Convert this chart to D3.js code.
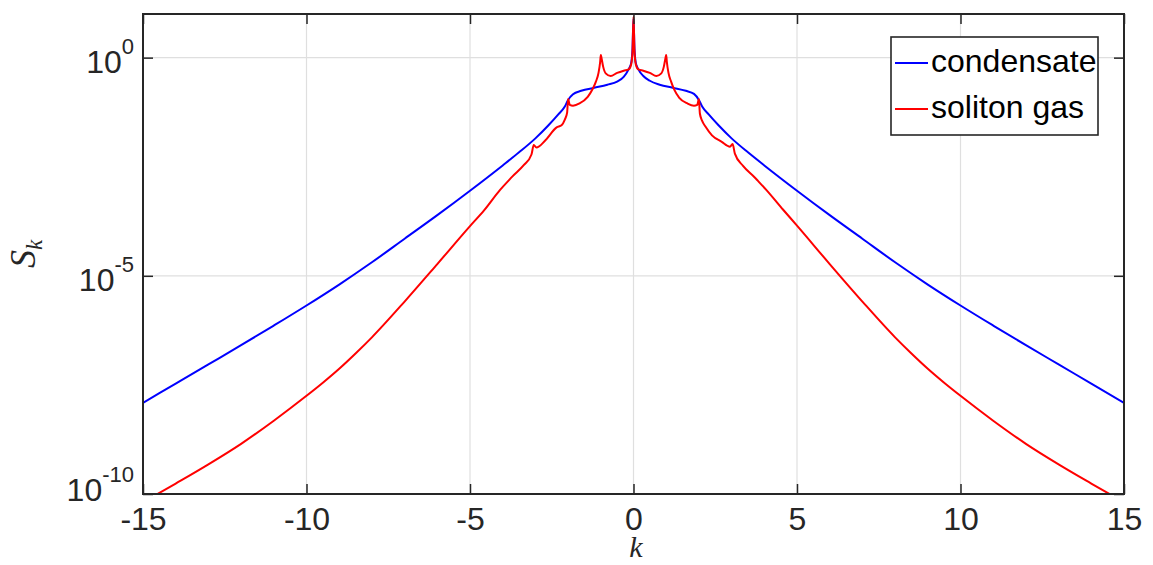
<!DOCTYPE html>
<html>
<head>
<meta charset="utf-8">
<script src="https://cdn.jsdelivr.net/npm/d3@7"></script>
<style>
  html, body { margin: 0; padding: 0; background: #fff; }
  svg { display: block; }
</style>
</head>
<body>
<svg id="chart" width="1153" height="565"></svg>
<script>
// ---------------- data ----------------
const xTicks = [-15, -10, -5, 0, 5, 10, 15];
const xTickLabels = ["-15", "-10", "-5", "0", "5", "10", "15"];
const yTicks = [1e-10, 1e-5, 1e0];
const yTickExponents = ["-10", "-5", "0"];
const seriesNames = ["condensate", "soliton gas"];

// condensate: k and log10(S_k)
const condK = [-15, -14, -13, -12, -11, -10, -9, -8, -7, -6, -5, -4, -3.5, -3, -2.6, -2.3, -2.1, -2.0,
  -1.85, -1.6, -1.2, -0.8, -0.5, -0.3, -0.15, -0.07, -0.03, 0,
  0.03, 0.07, 0.15, 0.3, 0.5, 0.8, 1.2, 1.6, 1.85,
  2.0, 2.1, 2.3, 2.6, 3, 3.5, 4, 5, 6, 7, 8, 9, 10, 11, 12, 13, 14, 15];
const condLog10 = [-7.91, -7.47, -7.03, -6.59, -6.14, -5.68, -5.2, -4.69, -4.15, -3.61, -3.05, -2.47, -2.17, -1.85, -1.55, -1.3, -1.12, -0.97,
  -0.84, -0.76, -0.69, -0.62, -0.55, -0.44, -0.27, -0.12, 0.2, 0.9,
  0.2, -0.12, -0.27, -0.42, -0.53, -0.62, -0.69, -0.76, -0.83,
  -0.97, -1.12, -1.3, -1.55, -1.85, -2.17, -2.47, -3.05, -3.61, -4.15, -4.69, -5.2, -5.68, -6.14, -6.59, -7.03, -7.47, -7.91];

// soliton gas: k and log10(S_k)
const gasK = [-15, -14, -13, -12, -11, -10, -9.5, -9, -8.5, -8, -7, -6,
  -5, -4.57, -4.08, -3.8, -3.7, -3.35, -3.12, -3.05, -2.97, -2.7, -2.35, -2.2, -2.1, -2.03, -2.0, -1.95, -1.85, -1.65, -1.4, -1.25,
  -1.15, -1.07, -1.02, -1.0, -0.98, -0.93, -0.85, -0.7, -0.5, -0.3, -0.15, -0.07, -0.03, 0,
  0.03, 0.07, 0.15, 0.3, 0.5, 0.7, 0.85, 0.93, 0.98, 1.0, 1.02, 1.07, 1.15, 1.25, 1.4, 1.65, 1.85, 1.95, 2.0, 2.03,
  2.1, 2.2, 2.4, 2.7, 2.95, 3.03, 3.1, 3.35, 3.7, 3.8, 4.06, 4.57, 5,
  6, 7, 8, 8.5, 9, 9.5, 10, 11, 12, 13, 14, 15];
const gasLog10 = [-10.19, -9.76, -9.32, -8.85, -8.32, -7.75, -7.45, -7.13, -6.78, -6.41, -5.59, -4.73,
  -3.86, -3.5, -3.03, -2.8, -2.72, -2.46, -2.22, -2.0, -2.06, -1.9, -1.6, -1.55, -1.42, -1.26, -0.95, -1.08, -1.1, -1.05, -0.9, -0.72,
  -0.55, -0.35, -0.1, 0.06, 0.0, -0.2, -0.36, -0.42, -0.35, -0.3, -0.27, -0.15, 0.15, 0.94,
  0.15, -0.15, -0.27, -0.3, -0.35, -0.42, -0.36, -0.2, 0.0, 0.06, -0.1, -0.35, -0.55, -0.74, -0.92, -1.05, -1.1, -1.08, -0.95, -1.28,
  -1.45, -1.58, -1.78, -1.93, -2.04, -1.98, -2.2, -2.48, -2.74, -2.82, -3.03, -3.48, -3.85,
  -4.73, -5.59, -6.41, -6.78, -7.13, -7.45, -7.75, -8.32, -8.85, -9.32, -9.76, -10.19];

// ---------------- layout ----------------
const L = 143, R = 1124, T = 14, B = 494;
const ink = "#262626";
const svg = d3.select("#chart");

const x = d3.scaleLinear().domain([-15, 15]).range([L, R]);
const y = d3.scaleLog().domain([1e-10, 1e1]).range([B, T]);

// grid
const grid = svg.append("g").attr("stroke", "#dfdfdf").attr("stroke-width", 1.2);
grid.selectAll("line.gx").data(xTicks.slice(1, -1)).join("line")
  .attr("x1", d => x(d)).attr("x2", d => x(d)).attr("y1", T).attr("y2", B);
grid.selectAll("line.gy").data(yTicks.slice(1)).join("line")
  .attr("x1", L).attr("x2", R).attr("y1", d => y(d)).attr("y2", d => y(d));

// clip for curves
svg.append("defs").append("clipPath").attr("id", "clip")
  .append("rect").attr("x", L).attr("y", T).attr("width", R - L).attr("height", B - T);

const line = d3.line().x(d => x(d[0])).y(d => y(d[1])).curve(d3.curveMonotoneX);
const condData = condK.map((k, i) => [k, Math.pow(10, condLog10[i])]);
const gasData = gasK.map((k, i) => [k, Math.pow(10, gasLog10[i])]);

const curves = svg.append("g").attr("clip-path", "url(#clip)");
curves.append("path").datum(condData).attr("d", line)
  .attr("fill", "none").attr("stroke", "#0000ff").attr("stroke-width", 2).attr("stroke-linejoin", "round");
curves.append("path").datum(gasData).attr("d", line)
  .attr("fill", "none").attr("stroke", "#ff0000").attr("stroke-width", 2).attr("stroke-linejoin", "round");

// axes
const fontSans = "'Liberation Sans', Arial, Helvetica, sans-serif";
const axB = svg.append("g").attr("transform", `translate(0,${B})`)
  .call(d3.axisBottom(x).tickValues(xTicks).tickFormat((d, i) => xTickLabels[i]).tickSize(-10).tickPadding(0));
const axT = svg.append("g").attr("transform", `translate(0,${T})`)
  .call(d3.axisTop(x).tickValues(xTicks).tickFormat("").tickSize(-10));
const axL = svg.append("g").attr("transform", `translate(${L},0)`)
  .call(d3.axisLeft(y).tickValues(yTicks).tickFormat("").tickSize(-10));
const axR = svg.append("g").attr("transform", `translate(${R},0)`)
  .call(d3.axisRight(y).tickValues(yTicks).tickFormat("").tickSize(-10));
[axB, axT, axL, axR].forEach(g => {
  g.select(".domain").remove();
  g.selectAll(".tick line").attr("stroke", ink).attr("stroke-width", 1.5);
});
axB.selectAll(".tick text")
  .attr("y", 36).attr("dy", null)
  .attr("fill", ink).attr("font-family", fontSans).attr("font-size", 32);

// y tick labels 10^n
axL.selectAll(".tick").each(function (d, i) {
  const g = d3.select(this);
  const shift = (d === 1e-10) ? -9 : 0;
  const t = g.append("text").attr("x", -9).attr("y", 15 + shift)
    .attr("text-anchor", "end").attr("fill", ink).attr("font-family", fontSans).attr("font-size", 32);
  t.append("tspan").text("10");
  t.append("tspan").attr("font-size", 22).attr("dy", -19).text(yTickExponents[i]);
});

// frame
svg.append("rect").attr("x", L).attr("y", T).attr("width", R - L).attr("height", B - T)
  .attr("fill", "none").attr("stroke", ink).attr("stroke-width", 2);

// axis labels
const fontSerif = "'Liberation Serif', 'DejaVu Serif', serif";
svg.append("text").attr("x", 636).attr("y", 557).attr("text-anchor", "middle")
  .attr("font-family", fontSerif).attr("font-style", "italic").attr("font-size", 30).attr("fill", ink).text("k");
const yl = svg.append("text").attr("transform", "translate(35,254) rotate(-90)").attr("text-anchor", "middle")
  .attr("font-family", fontSerif).attr("font-style", "italic").attr("fill", ink);
yl.append("tspan").attr("font-size", 36).text("S");
yl.append("tspan").attr("font-size", 23).attr("dy", 7).text("k");

// legend
const lg = svg.append("g");
lg.append("rect").attr("x", 891).attr("y", 37).attr("width", 207).attr("height", 98)
  .attr("fill", "#fff").attr("stroke", ink).attr("stroke-width", 1.6);
const legColors = ["#0000ff", "#ff0000"];
const legY = [63, 109];
seriesNames.forEach((name, i) => {
  lg.append("line").attr("x1", 895).attr("x2", 928).attr("y1", legY[i]).attr("y2", legY[i])
    .attr("stroke", legColors[i]).attr("stroke-width", 2);
  lg.append("text").attr("x", 931).attr("y", legY[i] + 9).attr("font-family", fontSans).attr("font-size", 32)
    .attr("fill", "#000").text(name);
});
</script>
</body>
</html>
